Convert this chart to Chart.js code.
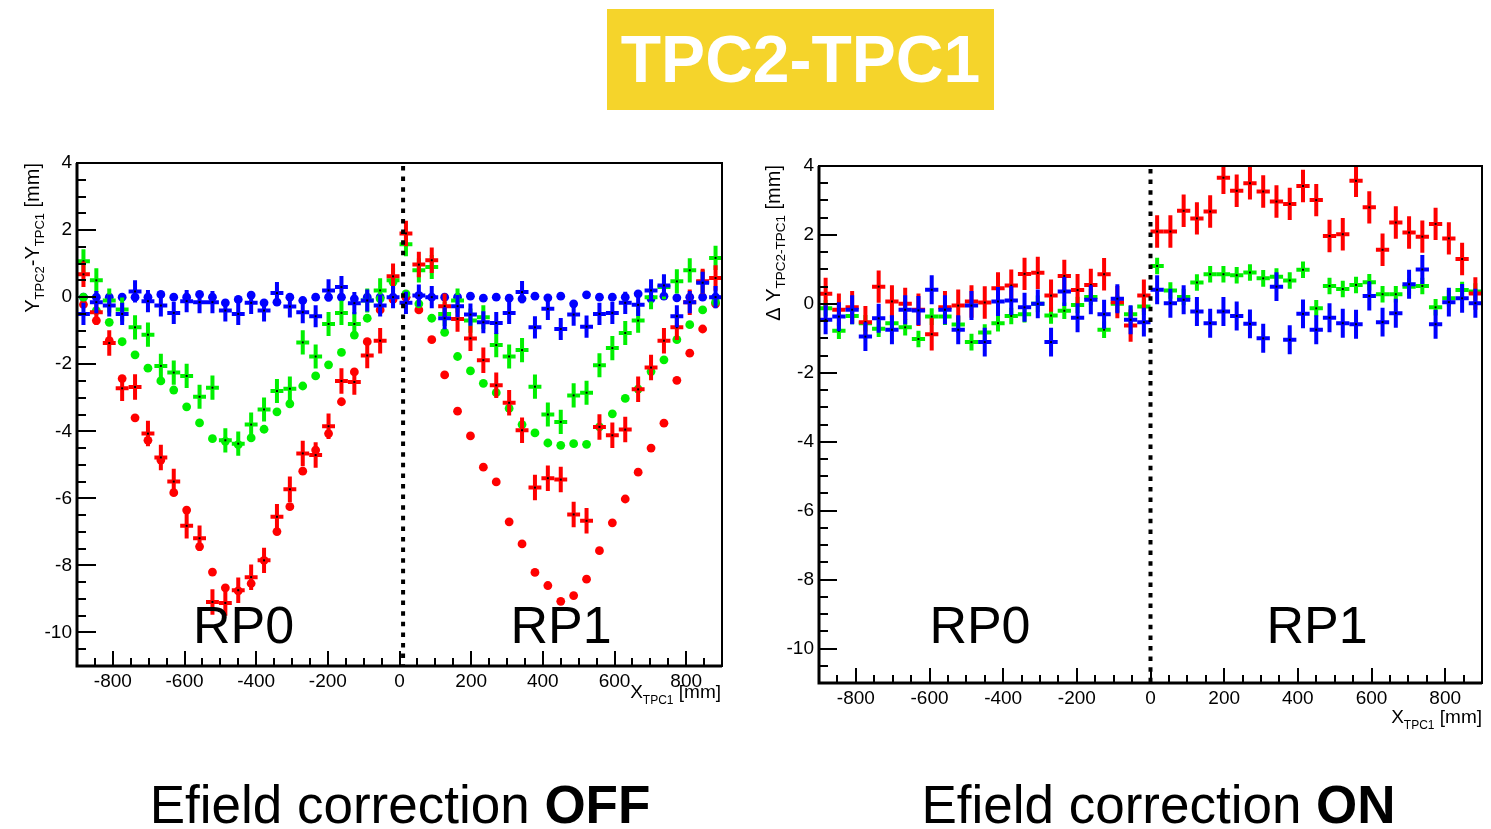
<!DOCTYPE html>
<html>
<head>
<meta charset="utf-8">
<script src="https://cdn.jsdelivr.net/npm/chart.js@4.4.0/dist/chart.umd.min.js"></script>
<style>
  body { margin: 0; width: 1491px; height: 829px; background: #fff; position: relative; overflow: hidden;
         font-family: "Liberation Sans", Arial, Helvetica, sans-serif; }
  #banner { position: absolute; left: 607px; top: 9px; width: 387px; height: 101px; background: #F5D42B;
            color: #fff; font-weight: bold; font-size: 66px; line-height: 101px; text-align: center; }
  .cap { position: absolute; top: 778px; font-size: 53px; line-height: 53px; text-align: center; color: #000; white-space: nowrap; }
  .wrap { position: absolute; }
</style>
</head>
<body>
<div id="banner">TPC2-TPC1</div>
<div class="wrap" style="left:0; top:140px;"><canvas id="chartOff" width="740" height="580"></canvas></div>
<div class="wrap" style="left:740px; top:140px;"><canvas id="chartOn" width="751" height="600"></canvas></div>
<div class="cap" style="left:0; width:800px;">Efield correction <b>OFF</b></div>
<div class="cap" style="left:826px; width:665px;">Efield correction <b>ON</b></div>

<script>
// bin centres along X_TPC1 [mm]
const binCenters = [-882, -846, -810, -774, -738, -702, -666, -630, -594, -558, -522, -486, -450, -414, -378,
  -342, -306, -270, -234, -198, -162, -126, -90, -54, -18, 18, 54, 90, 126, 162, 198, 234, 270, 306, 342,
  378, 414, 450, 486, 522, 558, 594, 630, 666, 702, 738, 774, 810, 846, 882];

const xTickLabels = [-800, -600, -400, -200, 0, 200, 400, 600, 800];
const yTickLabels = [-10, -8, -6, -4, -2, 0, 2, 4];

// ---- Efield correction OFF ----
const offRedCross = [0.68, -0.45, -1.37, -2.72, -2.68, -4.07, -4.78, -5.5, -6.82, -7.19, -9.09, -9.12, -8.74,
  -8.35, -7.85, -6.55, -5.73, -4.66, -4.71, -3.85, -2.5, -2.53, -1.74, -1.3, 0.62,
  1.9, 0.97, 1.1, -0.27, -0.65, -1.23, -1.88, -2.63, -3.15, -3.97, -5.68, -5.4, -5.44, -6.48, -6.67,
  -3.87, -4.12, -3.95, -2.75, -2.1, -1.3, -0.9, -0.15, 0.47, 0.57];
const offRedDot = [-0.22, -0.7, -1.3, -2.43, -3.6, -4.27, -4.86, -5.83, -6.35, -7.44, -8.2, -8.67, -8.76,
  -8.54, -7.85, -6.99, -6.25, -5.19, -4.56, -4.07, -3.12, -2.23, -1.33, -0.38, -0.07,
  0.0, -0.38, -1.27, -2.32, -3.4, -4.14, -5.07, -5.51, -6.7, -7.36, -8.21, -8.6, -9.07, -8.9, -8.41,
  -7.56, -6.73, -6.02, -5.22, -4.5, -3.76, -2.48, -1.67, -0.95, -0.2];
const offGreenCross = [1.07, 0.5, -0.1, -0.37, -0.9, -1.12, -2.05, -2.25, -2.35, -2.97, -2.7, -4.27, -4.37,
  -3.8, -3.35, -2.8, -2.73, -1.35, -1.77, -0.8, -0.47, -0.8, -0.1, 0.2, 0.5,
  1.58, 0.8, 0.9, -0.5, -0.1, -0.7, -0.6, -1.43, -1.77, -1.58, -2.67, -3.5, -3.72, -2.93, -2.85,
  -2.03, -1.52, -1.07, -0.7, 0.0, 0.3, 0.47, 0.8, 0.45, 1.17];
const offGreenDot = [0.0, -0.4, -0.75, -1.33, -1.72, -2.12, -2.5, -2.77, -3.27, -3.75, -4.22, -4.3, -4.4,
  -4.2, -3.94, -3.42, -3.18, -2.65, -2.35, -2.02, -1.65, -1.13, -0.63, -0.05, 0.45,
  0.1, -0.2, -0.63, -1.05, -1.77, -2.2, -2.57, -2.85, -3.32, -3.8, -4.05, -4.35, -4.42, -4.37, -4.39,
  -3.87, -3.48, -3.02, -2.74, -2.22, -1.87, -1.27, -0.82, -0.38, -0.15];
const offBlueCross = [-0.5, -0.15, -0.25, -0.5, 0.17, -0.12, -0.25, -0.47, -0.12, -0.15, -0.15, -0.4, -0.5,
  -0.17, -0.4, 0.12, -0.28, -0.45, -0.57, 0.2, 0.3, -0.18, -0.1, -0.25, 0.0,
  -0.17, 0.05, 0.0, -0.63, -0.27, -0.52, -0.75, -0.77, -0.47, 0.15, -0.9, -0.35, -0.95, -0.52, -0.88,
  -0.5, -0.47, -0.17, -0.23, 0.2, 0.35, -0.57, -0.15, 0.43, 0.0];
const offBlueDot = [0, 0, 0, 0, 0, 0, 0.08, 0, 0, 0.08, 0, -0.17, -0.07, 0.06, -0.17, -0.15, 0, -0.1, 0, 0,
  0, -0.05, 0, 0, 0,
  0, 0.05, 0, 0, 0, 0.03, -0.03, 0, -0.03, -0.05, 0.03, -0.02, 0.03, -0.2, 0.07, 0, 0, 0, 0.1, -0.05,
  0.03, -0.02, 0, 0, 0];

// ---- Efield correction ON ----
const onRedCross = [0.29, -0.17, -0.1, -0.53, 0.5, 0.07, 0.0, -0.17, -0.88, -0.1, -0.05, 0.07, 0.04,
  0.45, 0.53, 0.87, 0.9, 0.24, 0.81, 0.4, 0.55, 0.86, 0.05, -0.63, 0.24,
  2.1, 2.1, 2.7, 2.48, 2.68, 3.66, 3.28, 3.5, 3.26, 2.97, 2.9, 3.42, 3.01, 1.97, 2.02,
  3.57, 2.8, 1.57, 2.36, 2.07, 1.95, 2.32, 1.9, 1.3, 0.3];
const onGreenCross = [-0.13, -0.78, -0.35, -0.56, -0.72, -0.56, -0.68, -1.02, -0.37, -0.37, -0.6, -1.11, -0.83,
  -0.56, -0.35, -0.3, 0.0, -0.34, -0.2, -0.03, 0.2, -0.75, 0.0, -0.3, -0.08,
  1.1, 0.39, 0.2, 0.62, 0.86, 0.86, 0.83, 0.91, 0.74, 0.79, 0.68, 0.99, -0.13, 0.52, 0.43,
  0.55, 0.63, 0.28, 0.28, 0.5, 0.52, -0.1, 0.16, 0.4, 0.36];
const onBlueCross = [-0.46, -0.37, -0.17, -0.95, -0.42, -0.75, -0.17, -0.19, 0.41, -0.17, -0.75, -0.05, -1.11,
  0.07, 0.1, -0.1, 0.0, -1.11, 0.36, -0.4, 0.12, -0.3, 0.15, -0.46, -0.53,
  0.41, 0.02, 0.12, -0.22, -0.56, -0.22, -0.35, -0.58, -1.0, 0.5, -1.04, -0.29, -0.75, -0.4, -0.56,
  -0.59, 0.23, -0.53, -0.27, 0.57, 1.0, -0.59, 0.05, 0.16, 0.02];

const FONT = '"Liberation Sans", Arial, Helvetica, sans-serif';
const RED = "#ff0000", GREEN = "#00f000", BLUE = "#0000ff";

const toXY = ys => binCenters.map((x, i) => ({ x, y: ys[i] }));

function dots(values, color) {
  return { data: toXY(values), pointRadius: 4.4, pointBackgroundColor: color,
           pointBorderWidth: 0, showLine: false };
}
function crosses(values, color, err) {
  return { data: toXY(values), pointRadius: 0, showLine: false, err, crossColor: color };
}

// text with subscripts, right-aligned at (x, y), optionally rotated
function drawRich(ctx, parts, x, y, rotate) {
  ctx.save();
  ctx.translate(x, y);
  if (rotate) ctx.rotate(-Math.PI / 2);
  ctx.fillStyle = "#000";
  ctx.textAlign = "left";
  ctx.textBaseline = "alphabetic";
  let total = 0;
  parts.forEach(p => { ctx.font = p.size + "px " + FONT; p.w = ctx.measureText(p.t).width; total += p.w; });
  let cx = -total;
  parts.forEach(p => { ctx.font = p.size + "px " + FONT; ctx.fillText(p.t, cx, p.dy || 0); cx += p.w; });
  ctx.restore();
}

const rootPlot = {
  id: "rootPlot",
  afterDatasetsDraw(chart, args, o) {
    const { ctx, chartArea: a } = chart;
    const xs = chart.scales.x, ys = chart.scales.y;
    ctx.save();
    ctx.beginPath();
    ctx.rect(a.left, a.top, a.right - a.left, a.bottom - a.top);
    ctx.clip();
    chart.data.datasets.forEach(ds => {
      if (ds.err == null) return;
      ds.data.forEach(p => {
        if (p.y == null) return;
        const px = xs.getPixelForValue(p.x), py = ys.getPixelForValue(p.y);
        ctx.strokeStyle = ds.crossColor;
        ctx.lineWidth = 4;
        ctx.beginPath();
        ctx.moveTo(px, ys.getPixelForValue(p.y + ds.err));
        ctx.lineTo(px, ys.getPixelForValue(p.y - ds.err));
        ctx.moveTo(xs.getPixelForValue(p.x - o.halfBin), py);
        ctx.lineTo(xs.getPixelForValue(p.x + o.halfBin), py);
        ctx.stroke();
        ctx.fillStyle = "#000";
        ctx.fillRect(px - 1, py - 1, 2, 2);
      });
    });
    ctx.restore();
  },
  afterDraw(chart, args, o) {
    const { ctx, chartArea: a } = chart;
    const xs = chart.scales.x, ys = chart.scales.y;
    ctx.save();

    // RP labels
    ctx.fillStyle = "#000";
    ctx.font = "52px " + FONT;
    ctx.textAlign = "center";
    ctx.textBaseline = "alphabetic";
    o.labels.forEach(l => ctx.fillText(l.text, xs.getPixelForValue(l.x), ys.getPixelForValue(l.y)));

    // dotted divider
    ctx.strokeStyle = "#000";
    ctx.lineWidth = 4;
    ctx.setLineDash([4.5, 6.1]);
    const dx = xs.getPixelForValue(o.divider);
    ctx.beginPath();
    ctx.moveTo(dx, a.top + 3);
    ctx.lineTo(dx, a.bottom);
    ctx.stroke();
    ctx.setLineDash([]);

    // frame
    ctx.lineWidth = 2;
    ctx.strokeRect(a.left, a.top, a.right - a.left, a.bottom - a.top);
    ctx.lineWidth = 3;
    ctx.beginPath();
    ctx.moveTo(a.left, a.top);
    ctx.lineTo(a.left, a.bottom);
    ctx.lineTo(a.right, a.bottom);
    ctx.stroke();

    // inward ticks
    ctx.lineWidth = 2;
    ctx.beginPath();
    for (let v = ys.min; v <= ys.max + 1e-9; v += 0.5) {
      const len = yTickLabels.includes(v) ? o.yMajor : o.yMinor;
      const py = Math.round(ys.getPixelForValue(v));
      ctx.moveTo(a.left, py);
      ctx.lineTo(a.left + len, py);
    }
    for (let v = xs.min; v <= xs.max + 1e-9; v += 50) {
      const len = xTickLabels.includes(v) ? o.xMajor : o.xMinor;
      const px = Math.round(xs.getPixelForValue(v));
      ctx.moveTo(px, a.bottom);
      ctx.lineTo(px, a.bottom - len);
    }
    ctx.stroke();

    // axis titles
    drawRich(ctx, o.yTitle, o.yTitlePos[0], o.yTitlePos[1], true);
    drawRich(ctx, o.xTitle, o.xTitlePos[0], o.xTitlePos[1], false);
    ctx.restore();
  }
};

function makeChart(id, datasets, pad, yWidth, plotOpts) {
  const tickFont = { family: FONT, size: 19 };
  return new Chart(document.getElementById(id), {
    type: "scatter",
    data: { datasets },
    plugins: [rootPlot],
    options: {
      responsive: false,
      devicePixelRatio: 1,
      animation: false,
      events: [],
      layout: { padding: pad },
      plugins: { legend: { display: false }, tooltip: { enabled: false }, rootPlot: plotOpts },
      scales: {
        x: {
          type: "linear", min: -900, max: 900,
          grid: { display: false, drawTicks: false }, border: { display: false },
          ticks: { color: "#000", font: tickFont, padding: 4, maxRotation: 0, autoSkip: false },
          afterBuildTicks: s => { s.ticks = xTickLabels.map(v => ({ value: v })); },
          afterFit: s => { s.height = 40; }
        },
        y: {
          type: "linear", min: -11, max: 4,
          grid: { display: false, drawTicks: false }, border: { display: false },
          ticks: { color: "#000", font: tickFont, padding: 5, autoSkip: false },
          afterBuildTicks: s => { s.ticks = yTickLabels.map(v => ({ value: v })); },
          afterFit: s => { s.width = yWidth; }
        }
      }
    }
  });
}

makeChart("chartOff", [
  dots(offGreenDot, GREEN), dots(offRedDot, RED), dots(offBlueDot, BLUE),
  crosses(offGreenCross, GREEN, 0.36), crosses(offRedCross, RED, 0.38), crosses(offBlueCross, BLUE, 0.33)
], { left: 0, top: 23, right: 18, bottom: 14 }, 77, {
  halfBin: 18, divider: 10, yMajor: 19, yMinor: 9, xMajor: 15, xMinor: 8,
  labels: [{ text: "RP0", x: -435, y: -10.3 }, { text: "RP1", x: 451, y: -10.3 }],
  yTitle: [{ t: "Y", size: 20 }, { t: "TPC2", size: 13, dy: 5 }, { t: "-Y", size: 20 },
           { t: "TPC1", size: 13, dy: 5 }, { t: " [mm]", size: 20 }],
  yTitlePos: [39, 23],
  xTitle: [{ t: "X", size: 19 }, { t: "TPC1", size: 12, dy: 6 }, { t: " [mm]", size: 19 }],
  xTitlePos: [721, 558]
});

makeChart("chartOn", [
  crosses(onGreenCross, GREEN, 0.24), crosses(onRedCross, RED, 0.47), crosses(onBlueCross, BLUE, 0.42)
], { left: 0, top: 26, right: 9, bottom: 17 }, 79, {
  halfBin: 18, divider: 0, yMajor: 18, yMinor: 9, xMajor: 15, xMinor: 8,
  labels: [{ text: "RP0", x: -463, y: -9.83 }, { text: "RP1", x: 452, y: -9.83 }],
  yTitle: [{ t: "\u0394 Y", size: 20 }, { t: "TPC2-TPC1", size: 13.5, dy: 5 }, { t: " [mm]", size: 20 }],
  yTitlePos: [40, 25],
  xTitle: [{ t: "X", size: 19 }, { t: "TPC1", size: 12, dy: 6 }, { t: " [mm]", size: 19 }],
  xTitlePos: [742, 583]
});
</script>
</body>
</html>
